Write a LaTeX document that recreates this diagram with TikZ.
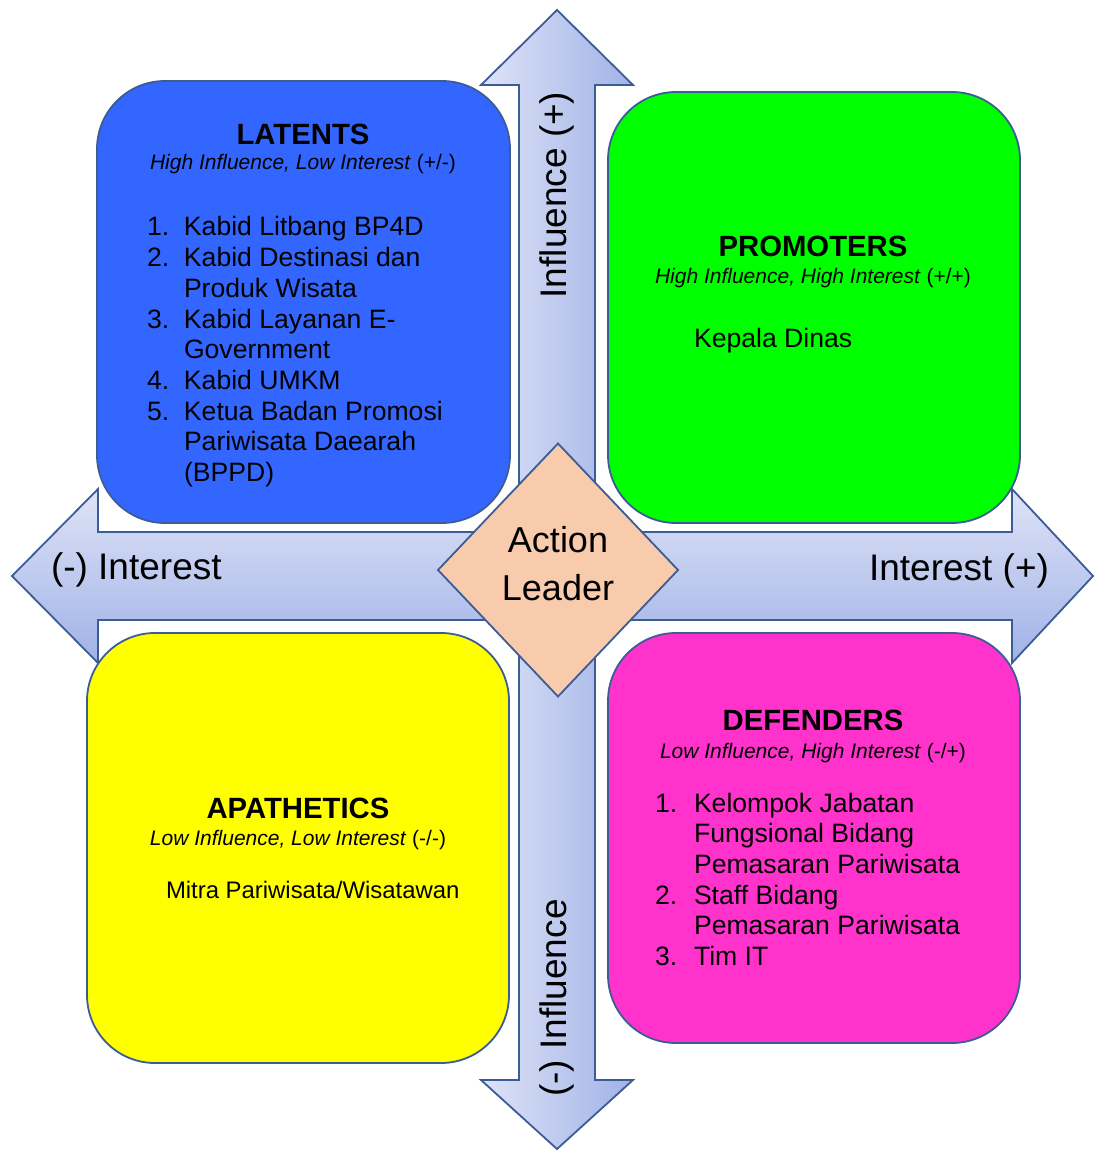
\documentclass[tikz,border=0pt]{standalone}
\usepackage{fontspec}
\setmainfont{Liberation Sans}
\usetikzlibrary{shapes.geometric}
\definecolor{garis}{HTML}{3B5C94}
\definecolor{panahA}{HTML}{DEE3F6}
\definecolor{panahB}{HTML}{A0B2E7}
\definecolor{biru}{HTML}{3366FF}
\definecolor{hijau}{HTML}{00FF00}
\definecolor{kuning}{HTML}{FFFF00}
\definecolor{merah}{HTML}{FF33CC}
\definecolor{krem}{HTML}{F8CBAD}

\begin{document}
\begin{tikzpicture}[x=1pt,y=-1pt]
	\tikzset{
		every node/.style={inner sep=0pt,outer sep=0pt},
		% kotak kuadran
		kotak/.style={draw=garis,line width=1.8pt,rounded corners=68pt,anchor=north west},
		% judul kotak
		judul/.style={anchor=base,font=\fontsize{29.3}{34}\selectfont\bfseries},
		subjudul/.style={anchor=base,font=\fontsize{21}{24}\selectfont},
		% daftar nama
		isi/.style={anchor=base west,font=\fontsize{26.6}{30.7}\selectfont},
		sumbu/.style={font=\fontsize{37}{44}\selectfont},
	}
	\useasboundingbox (0,0) rectangle (1094,1150);
	%
	% panah influence
	\path[draw=garis,line width=1.8pt,left color=panahA,right color=panahB]
		(557,10)--(633,85)--(595,85)--(595,1080)--(633,1080)--(557,1149)
		--(481,1080)--(519,1080)--(519,85)--(481,85)--cycle;
	% panah interest
	\path[draw=garis,line width=1.8pt,top color=panahA,bottom color=panahB]
		(12,576)--(98,489)--(98,532)--(1012,532)--(1012,489)--(1093,576)
		--(1012,663)--(1012,620)--(98,620)--(98,663)--cycle;
	%
	\node[kotak,fill=biru,minimum width=413pt,minimum height=442pt] (latents) at (97,81) {};
	\node[kotak,fill=hijau,minimum width=412pt,minimum height=431pt] (promoters) at (608,92) {};
	\node[kotak,fill=kuning,minimum width=422pt,minimum height=430pt] (apathetics) at (87,633) {};
	\node[kotak,fill=merah,minimum width=412pt,minimum height=410pt] (defenders) at (608,633) {};
	%
	\node[diamond,draw=garis,line width=1.8pt,fill=krem,minimum width=240pt,minimum height=253pt,
		align=center,font=\fontsize{36}{48}\selectfont] (aksi) at (558,570) {Action\\Leader\rule[-14pt]{0pt}{0pt}};
	%
	% LATENTS
	\node[judul] (jLat) at (303,145) {LATENTS};
	\node[subjudul] (sLat) at (303,170) {\textit{High Influence, Low Interest} (+/-)};
	\node[isi] (dLat) at (147,236) {\begin{tabular}[t]{@{}p{37pt}@{}l@{}}
		1.&Kabid Litbang BP4D\\
		2.&Kabid Destinasi dan\\
		&Produk Wisata\\
		3.&Kabid Layanan E-\\
		&Government\\
		4.&Kabid UMKM\\
		5.&Ketua Badan Promosi\\
		&Pariwisata Daearah\\
		&(BPPD)
	\end{tabular}};
	% PROMOTERS
	\node[judul] (jPro) at (813,257) {PROMOTERS};
	\node[subjudul] (sPro) at (813,283) {\textit{High Influence, High Interest} (+/+)};
	\node[isi] (dPro) at (694,347) {Kepala Dinas};
	% APATHETICS
	\node[judul] (jApa) at (298,818) {APATHETICS};
	\node[subjudul] (sApa) at (298,845) {\textit{Low Influence, Low Interest} (-/-)};
	\node[isi,font=\fontsize{23.9}{28}\selectfont] (dApa) at (166,898) {Mitra Pariwisata/Wisatawan};
	% DEFENDERS
	\node[judul] (jDef) at (813,730) {DEFENDERS};
	\node[subjudul] (sDef) at (813,758) {\textit{Low Influence, High Interest} (-/+)};
	\node[isi] (dDef) at (655,812) {\begin{tabular}[t]{@{}p{39pt}@{}l@{}}
		1.&Kelompok Jabatan\\
		&Fungsional Bidang\\
		&Pemasaran Pariwisata\\
		2.&Staff Bidang\\
		&Pemasaran Pariwisata\\
		3.&Tim IT
	\end{tabular}};
	%
	% label sumbu
	\node[sumbu,anchor=base west] (kiri) at (51,579) {(-) Interest};
	\node[sumbu,anchor=base east] (kanan) at (1049,580) {Interest (+)};
	\node[sumbu,anchor=base,rotate=90] (atas) at (566,195) {Influence (+)};
	\node[sumbu,anchor=base,rotate=90] (bawah) at (566,998) {(-) Influence};
\end{tikzpicture}
\end{document}
